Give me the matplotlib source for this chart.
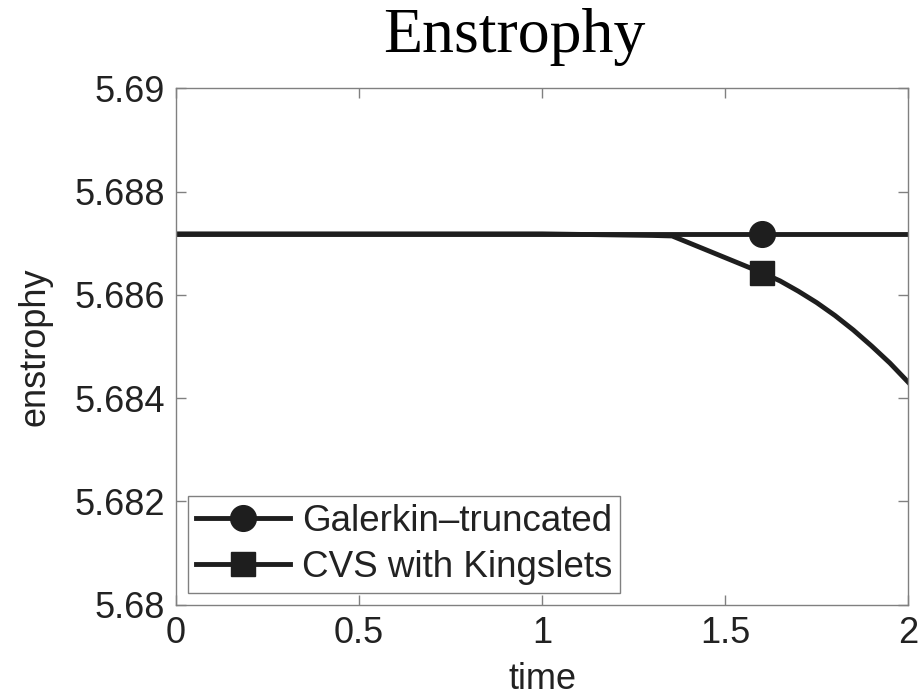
import matplotlib
matplotlib.use("Agg")
import matplotlib.pyplot as plt
import numpy as np

# Data
t_gal = [0.0, 0.5, 1.0, 1.5, 1.6, 2.0]
e_gal = [5.68718, 5.68718, 5.68718, 5.68718, 5.68718, 5.68718]

t_cvs = [0.0, 0.5, 1.0, 1.1, 1.2, 1.3, 1.355, 1.45, 1.6, 1.65, 1.7, 1.75, 1.8,
         1.85, 1.9, 1.95, 2.0]
e_cvs = [5.68718, 5.68718, 5.68718, 5.68717, 5.68716, 5.68715, 5.68714, 5.686865,
         5.68643, 5.68627, 5.68607, 5.68585, 5.68560, 5.68532, 5.68501, 5.68468,
         5.68431]

marker_t = 1.6
xticks = [0, 0.5, 1, 1.5, 2]
xticklabels = ["0", "0.5", "1", "1.5", "2"]
yticks = [5.68, 5.682, 5.684, 5.686, 5.688, 5.69]
yticklabels = ["5.68", "5.682", "5.684", "5.686", "5.688", "5.69"]

plt.rcParams['font.family'] = ['Liberation Sans', 'DejaVu Sans']

fig = plt.figure(figsize=(9.22, 7.0), dpi=100)
ax = fig.add_axes([0.191, 0.136, 0.794, 0.738])

lc = '#1e1e1e'
gal_mark = [t_gal.index(marker_t)]
cvs_mark = [t_cvs.index(marker_t)]
ax.plot(t_gal, e_gal, color=lc, lw=3.5, marker='o', markersize=18.5,
        markevery=gal_mark, label='Galerkin\u2013truncated', solid_joinstyle='round')
ax.plot(t_cvs, e_cvs, color=lc, lw=3.5, marker='s', markersize=17,
        markevery=cvs_mark, label='CVS with Kingslets', solid_joinstyle='round')

ax.set_xlim(0, 2)
ax.set_ylim(5.68, 5.69)
ax.set_xticks(xticks)
ax.set_xticklabels(xticklabels)
ax.set_yticks(yticks)
ax.set_yticklabels(yticklabels)

sc = '#808080'
for s in ax.spines.values():
    s.set_color(sc)
    s.set_linewidth(1.0)
ax.tick_params(direction='in', length=7, width=1, color=sc, labelsize=26,
               top=True, right=True, labelcolor='#222222', pad=8)

ax.set_xlabel('time', fontsize=26, color='#222222', labelpad=8)
ax.set_ylabel('enstrophy', fontsize=26, color='#222222', labelpad=16)
ax.text(0.462, 1.0 + 80 / 517.0, 'Enstrophy', transform=ax.transAxes,
        fontsize=46, family='Liberation Serif', ha='center', va='top')

leg = ax.legend(loc='lower left', bbox_to_anchor=(0.016, 0.023), borderaxespad=0,
                fontsize=26.5, handlelength=2.55, handletextpad=0.33,
                fancybox=False, framealpha=1, edgecolor=sc, borderpad=0.22,
                labelspacing=0.3)
leg.get_frame().set_linewidth(1.0)
for txt in leg.get_texts():
    txt.set_color('#222222')

fig.savefig('out.png', dpi=100)
